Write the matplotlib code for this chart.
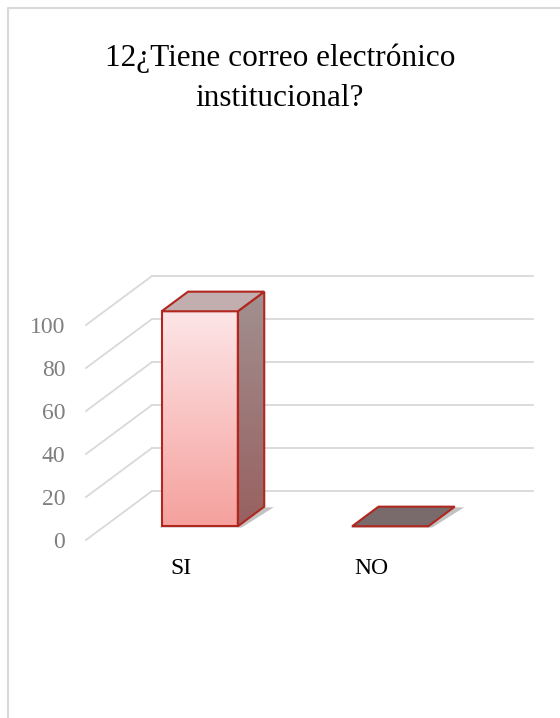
import numpy as np
import matplotlib.pyplot as plt
from matplotlib.patches import Polygon
from matplotlib.colors import LinearSegmentedColormap

# Survey answers
categories = ['SI', 'NO']
values = [100, 0]
yticks = [0, 20, 40, 60, 80, 100]
title = '12¿Tiene correo electrónico\ninstitucional?'

# oblique projection of the depth axis (in data units)
DX = 0.3465
DY = 22.8
BAR_W = 0.40
D_FRONT, D_BACK = 0.28, 0.68

plt.rcParams['font.family'] = ['Liberation Serif', 'DejaVu Serif']

fig = plt.figure(figsize=(5.6, 7.18), dpi=100)
ax = fig.add_axes([86 / 560, 178 / 718, 381 / 560, 215 / 718])
ax.set_xlim(-0.5, 1.5)
ax.set_ylim(0, 100)


def proj(x, y, d):
    return (x + d * DX, y + d * DY)


# chart frame (only top and left edges fall inside the image)
fig.add_artist(plt.Line2D([8 / 560, 8 / 560, 1.0], [0, 1 - 8 / 718, 1 - 8 / 718],
                          transform=fig.transFigure, color='#d9d9d9', lw=1.5))

grid_c = '#d9d9d9'
for v in yticks:
    # back wall line
    x0, y0 = proj(-0.5, v, 1)
    x1, y1 = proj(1.5, v, 1)
    ax.plot([x0, x1], [y0, y1], color=grid_c, lw=1.3, clip_on=False, zorder=1)
    # side wall line
    xa, ya = proj(-0.5, v, 0)
    ax.plot([xa, x0], [ya, y0], color=grid_c, lw=1.3, clip_on=False, zorder=1)

edge = '#b1271f'
front_cmap = LinearSegmentedColormap.from_list('front', ['#f5a19d', '#fde5e7'])
side_cmap = LinearSegmentedColormap.from_list('side', ['#986060', '#a29090'])
grad = np.linspace(0, 1, 256).reshape(-1, 1)

for i, v in enumerate(values):
    xl, xr = i - BAR_W / 2, i + BAR_W / 2
    fbl = proj(xl, 0, D_FRONT)
    fbr = proj(xr, 0, D_FRONT)
    ftl = proj(xl, v, D_FRONT)
    ftr = proj(xr, v, D_FRONT)
    bbr = proj(xr, 0, D_BACK)
    btl = proj(xl, v, D_BACK)
    btr = proj(xr, v, D_BACK)

    # soft shadow on the floor
    sh = Polygon([(fbl[0] - 0.01, fbl[1] - 0.6), (fbr[0] + 0.02, fbr[1] - 0.6),
                  (bbr[0] + 0.05, bbr[1] - 0.3), (proj(xl, 0, D_BACK)[0], bbr[1] - 0.3)],
                 closed=True, facecolor='#555555', alpha=0.35, lw=0,
                 clip_on=False, zorder=2)
    ax.add_patch(sh)

    if v > 0:
        # front face with vertical gradient
        im = ax.imshow(grad, cmap=front_cmap, origin='lower', aspect='auto',
                       extent=[fbl[0], fbr[0], fbl[1], ftl[1]], zorder=3)
        im.set_clip_on(False)
        ax.add_patch(Polygon([fbl, fbr, ftr, ftl], closed=True, fill=False,
                             edgecolor=edge, lw=1.5, clip_on=False, zorder=4))
        # right side face
        side = Polygon([fbr, bbr, btr, ftr], closed=True, facecolor='none',
                       edgecolor='none', clip_on=False)
        ax.add_patch(side)
        im2 = ax.imshow(grad, cmap=side_cmap, origin='lower', aspect='auto',
                        extent=[fbr[0], bbr[0], fbr[1], btr[1]], zorder=3)
        im2.set_clip_box(fig.bbox)
        im2.set_clip_path(side)
        ax.add_patch(Polygon([fbr, bbr, btr, ftr], closed=True, fill=False,
                             edgecolor=edge, lw=1.5, clip_on=False, zorder=4))
        top_c = '#c2aeae'
    else:
        top_c = '#796b6b'
    # top face
    ax.add_patch(Polygon([ftl, ftr, btr, btl], closed=True, facecolor=top_c,
                         edgecolor=edge, lw=1.5, clip_on=False, zorder=5))

ax.set_xlim(-0.5, 1.5)
ax.set_ylim(0, 100)

ax.set_yticks(yticks)
ax.set_yticklabels([str(t) for t in yticks], fontsize=17, color='#7f7f7f')
ax.set_xticks(range(len(categories)))
ax.set_xticklabels(categories, fontsize=17, color='black')
ax.tick_params(axis='y', length=0, pad=15)
ax.tick_params(axis='x', length=0, pad=13)
for s in ax.spines.values():
    s.set_visible(False)
ax.patch.set_visible(False)

fig.text(0.5, 1 - 78 / 718, title, ha='center', va='center', fontsize=22.5,
         linespacing=1.5)

fig.savefig('out.png', dpi=100)
